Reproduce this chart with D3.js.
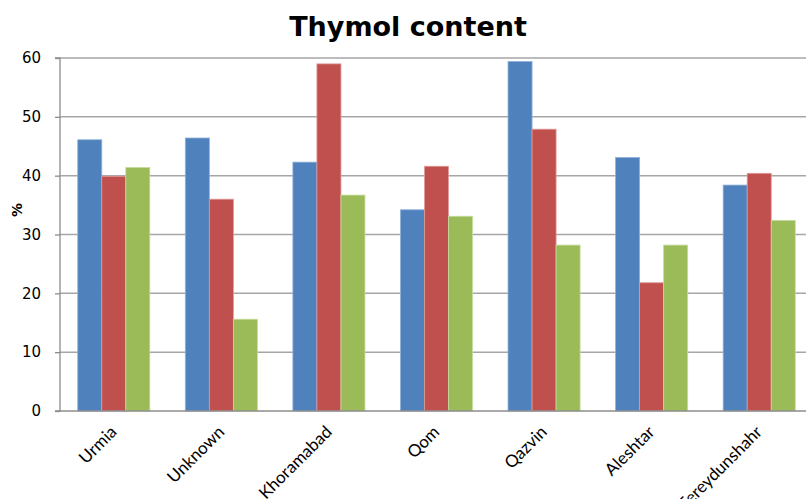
<!DOCTYPE html>
<html><head><meta charset="utf-8">
<script src="https://cdn.jsdelivr.net/npm/d3@7"></script>
<style>body{margin:0;background:#fff}svg{display:block}</style>
</head><body>
<svg id="c" width="806" height="499"></svg>
<script>
const categories = ["Urmia","Unknown","Khoramabad","Qom","Qazvin","Aleshtar","Fereydunshahr"];
const seriesA = [46.1, 46.4, 42.3, 34.2, 59.4, 43.1, 38.4];
const seriesB = [39.9, 36.0, 59.0, 41.6, 47.9, 21.8, 40.4];
const seriesC = [41.4, 15.6, 36.7, 33.1, 28.2, 28.2, 32.4];
const yTicks = [0,10,20,30,40,50,60];
const colors = ["#4F81BD","#C0504D","#9BBB59"];
const strokes = ["#8FB0DA","#E09A98","#C6DB9C"];
const series = [seriesA, seriesB, seriesC];

(function(){
const svg = d3.select("#c");
const mL = 60, mR = 813, mT = 58, mB = 411;
const x = d3.scaleBand().domain(categories).range([mL, mR]).paddingInner(0.33).paddingOuter(0.165);
const y = d3.scaleLinear().domain([0,60]).range([mB, mT]);
const xs = d3.scaleBand().domain([0,1,2]).range([0, x.bandwidth()]);

// gridlines
svg.append("g").selectAll("line").data(yTicks.filter(d=>d>0)).join("line")
  .attr("x1", mL).attr("x2", 806).attr("y1", d=>y(d)).attr("y2", d=>y(d))
  .attr("stroke", "#a6a6a6").attr("stroke-width", 1.5);

// bars
const g = svg.append("g");
series.forEach((s, i) => {
  g.selectAll(".b"+i).data(s).join("rect").attr("class", "b"+i)
    .attr("x", (d,j)=>x(categories[j]) + xs(i))
    .attr("width", xs.bandwidth())
    .attr("y", d=>y(d)).attr("height", d=>mB - y(d))
    .attr("fill", colors[i]).attr("stroke", strokes[i]).attr("stroke-width", 0.8);
});

// y axis
const ya = d3.axisLeft(y).tickValues(yTicks).tickSize(5).tickPadding(14);
const yg = svg.append("g").attr("transform", `translate(${mL},0)`).call(ya);
yg.select(".domain").attr("stroke", "#8c8c8c").attr("stroke-width", 1.3).attr("d", `M-5,${mT}H0V${mB}H-5`);
yg.selectAll(".tick line").attr("stroke", "#8c8c8c").attr("stroke-width", 1.3);
yg.selectAll("text").attr("font-family", "DejaVu Sans, Verdana, sans-serif").attr("font-size", 15).attr("fill", "#000");

// x axis
const xa = d3.axisBottom(x).tickSize(0).tickPadding(0);
const xg = svg.append("g").attr("transform", `translate(0,${mB})`).call(xa);
xg.select(".domain").attr("stroke", "#8c8c8c").attr("stroke-width", 1.3).attr("d", `M${mL},0H806`);
xg.selectAll("text").attr("font-family", "Lato, 'Open Sans', sans-serif").attr("font-size", 17).attr("fill", "#000")
  .attr("text-anchor", "end").attr("dy", 0).attr("y", 0)
  .attr("transform", "translate(4,22) rotate(-45)");

// y label
svg.append("text").attr("transform", "translate(22,210) rotate(-90)").attr("text-anchor", "middle")
  .attr("font-family", "DejaVu Sans, Verdana, sans-serif").attr("font-weight", "bold").attr("font-size", 14).text("%");

// title
svg.append("text").attr("x", 408).attr("y", 36).attr("text-anchor", "middle")
  .attr("font-family", "DejaVu Sans, Verdana, sans-serif").attr("font-weight", "bold").attr("font-size", 27).text("Thymol content");
})();
</script>
</body></html>
